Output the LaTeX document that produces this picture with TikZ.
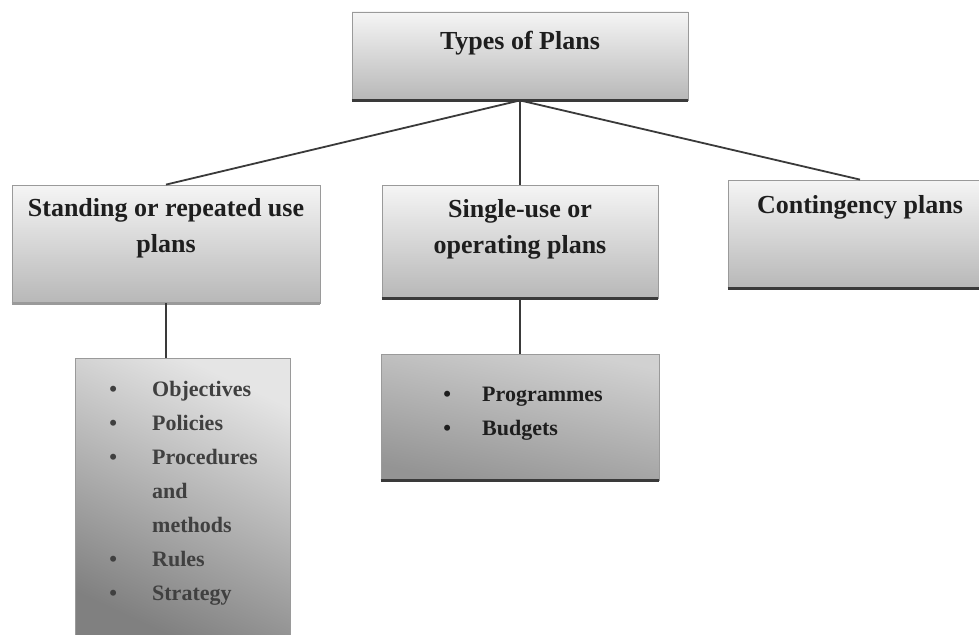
\documentclass[tikz,border=0pt]{standalone}
\usepackage{fontspec}
\setmainfont{Liberation Serif}
\usetikzlibrary{calc}
\definecolor{ink}{HTML}{1E1E1E}
\definecolor{edge}{HTML}{9A9A9A}
\definecolor{rule}{HTML}{3A3A3A}
\tikzset{
  planbox/.style={rectangle, draw=edge, line width=0.8pt, shading=axis,
    top color=white!96!black, bottom color=white!72!black, inner sep=0pt},
  listbox/.style={rectangle, draw=edge, line width=0.8pt, shading=axis,
    top color=white!90!black, bottom color=white!50!black, shading angle=-25, inner sep=0pt},
  heading/.style={font=\fontsize{26}{36}\selectfont\bfseries, text=ink, align=center, inner sep=0pt},
  items/.style={font=\fontsize{22}{34}\selectfont\bfseries, text=ink!85!white, align=left, inner sep=0pt},
  conn/.style={draw=rule, line width=1.8pt},
  baserule/.style={draw=rule, line width=2.6pt},
}
\newcommand{\bul}{\makebox[10pt]{\textbullet}}
\begin{document}
\begin{tikzpicture}[x=1pt,y=-1pt]
\useasboundingbox[fill=white] (0,0) rectangle (979,634);

% boxes
\node[planbox, minimum width=336pt, minimum height=88pt] (top) at (520,56) {};
\node[planbox, minimum width=308pt, minimum height=118pt] (stand) at (166,244) {};
\node[planbox, minimum width=276pt, minimum height=113pt] (single) at (520,241.5) {};
\node[planbox, minimum width=264pt, minimum height=108pt] (cont) at (860,234) {};
\node[listbox, minimum width=215pt, minimum height=282pt] (stl) at (182.5,499) {};
\node[listbox, top color=white!82!black, bottom color=white!58!black, shading angle=-12,
      minimum width=278pt, minimum height=126pt] (sul) at (520,417) {};

% heavy lower edges
\draw[baserule] (top.south west) -- (top.south east);
\draw[baserule, draw=edge] (stand.south west) -- (stand.south east);
\draw[baserule] (single.south west) -- (single.south east);
\draw[baserule] (cont.south west) -- (cont.south east);
\draw[baserule] (sul.south west) -- (sul.south east);

% headings
\node[heading] (ttop) at (520,43) {Types of Plans};
\node[heading] (tstand) at (166,228) {Standing or repeated use\\plans};
\node[heading] (tsingle) at (520,229) {Single-use or\\operating plans};
\node[heading] (tcont) at (860,207) {Contingency plans};

% bullet lists
\node[items, anchor=north west] (lstand) at (108,372) {%
  \begin{tabular}{@{}l@{\hspace{34pt}}l@{}}
  \bul & Objectives\\
  \bul & Policies\\
  \bul & Procedures\\
       & and\\
       & methods\\
  \bul & Rules\\
  \bul & Strategy
  \end{tabular}};
\node[items, text=ink, anchor=north west] (lsingle) at (442,377) {%
  \begin{tabular}{@{}l@{\hspace{30pt}}l@{}}
  \bul & Programmes\\
  \bul & Budgets
  \end{tabular}};

% connectors
\draw[conn] (top.south) -- (stand.north);
\draw[conn] (top.south) -- (single.north);
\draw[conn] (top.south) -- (cont.north);
\draw[conn] (stand.south) -- (stand.south |- stl.north);
\draw[conn] (single.south) -- (sul.north);
\end{tikzpicture}
\end{document}
